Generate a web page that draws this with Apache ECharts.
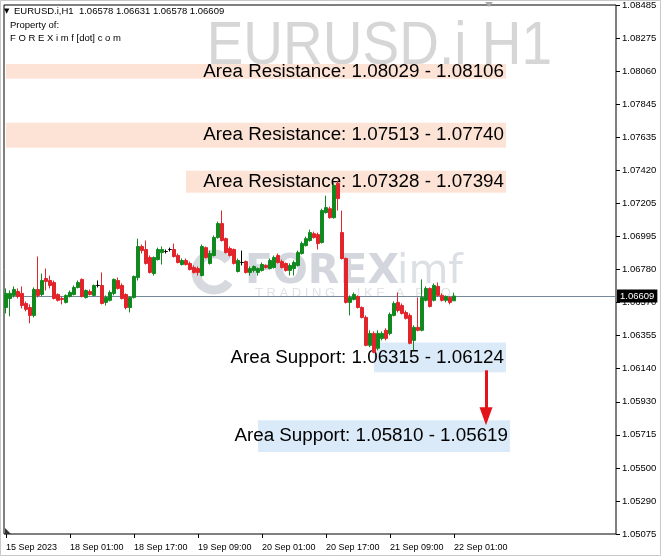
<!DOCTYPE html>
<html><head><meta charset="utf-8">
<script src="https://cdn.jsdelivr.net/npm/echarts@6/dist/echarts.min.js"></script>
<style>html,body{margin:0;padding:0;background:#fff}#c{width:664px;height:560px}</style>
</head><body><div id="c"></div>
<script>
// ---- data ----
const openP = [
1.06535,1.06593,1.06613,1.06638,1.06626,1.06561,1.06535,1.06484,1.06651,1.06619,
1.06722,1.06709,1.06696,1.06619,1.06593,1.06568,1.06606,1.06619,1.06664,1.06716,
1.06600,1.06638,1.06613,1.06677,1.06677,1.06568,1.06581,1.06626,1.06709,1.06677,
1.06619,1.06535,1.06600,1.06728,1.06928,1.06909,1.06857,1.06754,1.06844,1.06889,
1.06896,1.06909,1.06909,1.06870,1.06812,1.06838,1.06819,1.06793,1.06786,1.06741,
1.06921,1.06819,1.06870,1.06986,1.07076,1.06979,1.06915,1.06909,1.06767,1.06825,
1.06831,1.06761,1.06774,1.06761,1.06774,1.06806,1.06786,1.06793,1.06870,1.06831,
1.06819,1.06774,1.06786,1.06806,1.06883,1.06934,1.06967,1.07011,1.07005,1.06954,
1.07147,1.07172,1.07114,1.07334,1.07018,1.06851,1.06568,1.06587,1.06606,1.06535,
1.06471,1.06291,1.06368,1.06272,1.06336,1.06388,1.06368,1.06484,1.06568,1.06548,
1.06503,1.06484,1.06323,1.06407,1.06388,1.06581,1.06658,1.06581,1.06671,1.06613,
1.06581,1.06600,1.06578];
const closeP = [
1.06626,1.06626,1.06651,1.06606,1.06548,1.06523,1.06484,1.06651,1.06613,1.06709,
1.06703,1.06677,1.06593,1.06581,1.06587,1.06613,1.06632,1.06664,1.06696,1.06606,
1.06645,1.06619,1.06677,1.06677,1.06561,1.06600,1.06632,1.06716,1.06658,1.06593,
1.06535,1.06600,1.06735,1.06928,1.06902,1.06819,1.06761,1.06857,1.06909,1.06909,
1.06896,1.06909,1.06864,1.06825,1.06838,1.06812,1.06780,1.06761,1.06761,1.06928,
1.06857,1.06883,1.06986,1.07076,1.06967,1.06889,1.06870,1.06819,1.06838,1.06825,
1.06761,1.06786,1.06799,1.06786,1.06812,1.06793,1.06838,1.06857,1.06825,1.06793,
1.06774,1.06806,1.06825,1.06889,1.06947,1.06979,1.07018,1.06986,1.06947,1.07160,
1.07179,1.07114,1.07321,1.07237,1.06851,1.06568,1.06600,1.06619,1.06535,1.06471,
1.06291,1.06368,1.06246,1.06368,1.06368,1.06336,1.06490,1.06561,1.06516,1.06497,
1.06465,1.06304,1.06407,1.06388,1.06600,1.06658,1.06542,1.06677,1.06613,1.06581,
1.06606,1.06568,1.06609];
const lowP = [
1.06497,1.06478,1.06600,1.06593,1.06529,1.06510,1.06433,1.06471,1.06600,1.06606,
1.06645,1.06658,1.06587,1.06574,1.06555,1.06561,1.06600,1.06613,1.06658,1.06600,
1.06593,1.06613,1.06606,1.06664,1.06555,1.06548,1.06574,1.06613,1.06651,1.06587,
1.06523,1.06503,1.06593,1.06709,1.06883,1.06812,1.06754,1.06741,1.06838,1.06812,
1.06883,1.06896,1.06857,1.06819,1.06806,1.06806,1.06774,1.06754,1.06741,1.06735,
1.06851,1.06812,1.06864,1.06979,1.06960,1.06883,1.06864,1.06812,1.06761,1.06806,
1.06754,1.06741,1.06761,1.06741,1.06767,1.06786,1.06780,1.06786,1.06819,1.06786,
1.06767,1.06741,1.06741,1.06799,1.06876,1.06928,1.06960,1.06979,1.06909,1.06947,
1.07140,1.07108,1.07108,1.07160,1.06844,1.06561,1.06484,1.06581,1.06529,1.06465,
1.06285,1.06279,1.06240,1.06259,1.06323,1.06323,1.06356,1.06478,1.06503,1.06490,
1.06458,1.06298,1.06259,1.06381,1.06381,1.06574,1.06535,1.06574,1.06606,1.06574,
1.06568,1.06555,1.06578];
const highP = [
1.06658,1.06645,1.06671,1.06658,1.06671,1.06574,1.06555,1.06664,1.06864,1.06754,
1.06786,1.06741,1.06709,1.06626,1.06606,1.06619,1.06645,1.06677,1.06709,1.06722,
1.06651,1.06651,1.06683,1.06709,1.06761,1.06613,1.06645,1.06722,1.06728,1.06690,
1.06626,1.06606,1.06741,1.06979,1.06941,1.06967,1.06870,1.06864,1.06921,1.06928,
1.06909,1.06921,1.06947,1.06883,1.06851,1.06851,1.06831,1.06806,1.06799,1.06941,
1.06928,1.06902,1.06999,1.07089,1.07160,1.06986,1.06928,1.06915,1.06851,1.06902,
1.06838,1.06799,1.06806,1.06793,1.06825,1.06812,1.06851,1.06870,1.06883,1.06844,
1.06825,1.06819,1.06838,1.06902,1.06960,1.06992,1.07037,1.07024,1.07018,1.07172,
1.07256,1.07185,1.07334,1.07353,1.07160,1.06857,1.06613,1.06632,1.06613,1.06542,
1.06484,1.06388,1.06381,1.06388,1.06381,1.06401,1.06503,1.06574,1.06632,1.06561,
1.06516,1.06497,1.06420,1.06600,1.06716,1.06671,1.06664,1.06690,1.06696,1.06626,
1.06613,1.06606,1.06631];

const priceTicks = ['1.05075','1.05290','1.05500','1.05715','1.05930','1.06140','1.06355','1.06570',
  '1.06780','1.06995','1.07205','1.07420','1.07635','1.07845','1.08060','1.08275','1.08485'];
const priceMin = 1.05075, priceMax = 1.08485;

const timeTickIndex = [0,16,32,48,64,80,96,112];
const timeTickText = ['15 Sep 2023','18 Sep 01:00','18 Sep 17:00','19 Sep 09:00','20 Sep 01:00','20 Sep 17:00','21 Sep 09:00','22 Sep 01:00'];
const totalSlots = 153; // bars + right-side chart shift

const zoneText = ['Area Resistance: 1.08029 - 1.08106','Area Resistance: 1.07513 - 1.07740','Area Resistance: 1.07328 - 1.07394','Area Support: 1.06315 - 1.06124','Area Support: 1.05810 - 1.05619'];
const zoneHigh = [1.08105, 1.07726, 1.07417, 1.06310, 1.05808];
const zoneLow  = [1.08009, 1.07565, 1.07275, 1.06117, 1.05603];
const zoneFromBar = [0, 0, 45, 92, 63];
const zoneToBar   = [125, 125, 125, 125, 126];
const zoneKind = ['res','res','res','sup','sup'];

const lastPrice = 1.06609;
const arrowBar = 120, arrowFrom = 1.06130, arrowTo = 1.05834;

const header = 'EURUSD.i,H1  1.06578 1.06631 1.06578 1.06609';

// ---- chart ----
const FONT = '"Liberation Sans", Arial, sans-serif';
const cats = Array.from({length: totalSlots}, (_, i) => String(i));
const candles = openP.map((o, i) => [o, closeP[i], lowP[i], highP[i]]);
const isTick = (idx) => timeTickIndex.indexOf(idx) >= 0;

const zoneColors = {res: '#fce3d6', sup: '#dbeaf8'};
const areas = zoneText.map((t, i) => [
  {xAxis: zoneFromBar[i], yAxis: zoneHigh[i], itemStyle: {color: zoneColors[zoneKind[i]]},
   label: {show: true, formatter: t}},
  {xAxis: zoneToBar[i], yAxis: zoneLow[i]}
]);

const chart = echarts.init(document.getElementById('c'), null, {renderer: 'canvas'});
chart.setOption({
  animation: false,
  backgroundColor: '#fff',
  textStyle: {fontFamily: FONT},
  grid: {left: 4, right: 48, top: 4, bottom: 26, show: true, borderColor: '#000', borderWidth: 1, backgroundColor: 'transparent'},
  xAxis: {
    type: 'category', data: cats, boundaryGap: true,
    axisLine: {show: false},
    axisTick: {show: true, interval: (i) => isTick(i), alignWithLabel: true, length: 4, lineStyle: {color: '#000'}},
    axisLabel: {interval: (i) => isTick(i), formatter: (v, i) => timeTickText[timeTickIndex.indexOf(Number(v))] || '',
      align: 'left', margin: 9, fontSize: 9, color: '#000', fontFamily: FONT},
    splitLine: {show: false}
  },
  yAxis: [
    {type: 'value', min: priceMin, max: priceMax, position: 'left', show: false, splitLine: {show: false}},
    {type: 'value', min: 0, max: priceTicks.length - 1, interval: 1, position: 'right',
      axisLine: {show: false},
      axisTick: {show: true, length: 4, lineStyle: {color: '#000'}},
      axisLabel: {formatter: (v) => priceTicks[Math.round(v)], fontSize: 9.5, color: '#000', margin: 6, fontFamily: FONT},
      splitLine: {show: false}}
  ],
  graphic: [
    {type: 'rect', z: -1, silent: true, shape: {x: 0.5, y: 0.5, width: 660, height: 555}, style: {fill: null, stroke: '#c8c8c8', lineWidth: 1}},
    {type: 'text', z: 0, scaleY: 1.12, originY: 16, style: {x: 552, y: 16, text: 'EURUSD.i H1', textAlign: 'right', font: '55px ' + FONT, fill: '#d6d6d6'}},
    {type: 'polygon', z: 10, shape: {points: [[485, 2], [493, 2], [489, 7]]}, style: {fill: '#a9a9a9'}},
    {type: 'polygon', z: 10, shape: {points: [[5, 528], [5, 534], [11, 534]]}, style: {fill: '#333'}},
    {type: 'text', z: 10, style: {x: 4, y: 8, text: '▼', font: '7px "DejaVu Sans"', fill: '#000'}},
    {type: 'text', z: 10, style: {x: 14, y: 6, text: header, font: '9.5px ' + FONT, fill: '#000'}},
    {type: 'text', z: 10, style: {x: 10, y: 20, text: 'Property of:', font: '9.5px ' + FONT, fill: '#000'}},
    {type: 'text', z: 10, style: {x: 10, y: 33, text: 'F O R E X i m f [dot] c o m', font: '9.5px ' + FONT, fill: '#000'}},
    {type: 'arc', z: 0, shape: {cx: 214, cy: 272, r: 18, startAngle: 0.6, endAngle: 5.6}, style: {stroke: '#d6d9de', lineWidth: 9, fill: null}},
    {type: 'text', z: 0, style: {x: 245, y: 252, text: 'FOREX', font: 'bold 41px "DejaVu Sans"', fill: '#d3d6dc'}},
    {type: 'text', z: 0, style: {x: 397, y: 252, text: 'imf', font: '41px "DejaVu Sans"', fill: '#dcdfe4'}},
    {type: 'text', z: 0, style: {x: 255, y: 287, text: 'T R A D I N G   L I K E   A   P R O', font: '13px ' + FONT, fill: '#e0e2e6'}}
  ],
  series: [
    {
      type: 'candlestick', yAxisIndex: 0, data: candles, barWidth: 3, z: 3,
      itemStyle: {color: '#12891f', color0: '#e2242b', borderColor: '#12891f', borderColor0: '#e2242b', borderColorDoji: '#000', borderWidth: 1},
      markArea: {
        silent: true, z: 1,
        label: {position: 'insideRight', distance: 2, color: '#000', fontSize: 18.8, fontFamily: FONT},
        data: areas
      },
      markLine: {
        silent: true, symbol: 'none', z: 2, precision: 5,
        lineStyle: {color: '#778899', width: 1, type: 'solid'},
        label: {show: true, position: 'end', distance: 1, formatter: lastPrice.toFixed(5),
          backgroundColor: '#000', color: '#fff', padding: [2, 3, 1, 3], fontSize: 9.5, fontFamily: FONT},
        data: [{yAxis: lastPrice}]
      }
    },
    {
      type: 'line', yAxisIndex: 0, data: [], z: 4,
      markLine: {
        silent: true, symbol: ['none', 'triangle'], symbolSize: [13, 18], precision: 5,
        lineStyle: {color: '#e3121b', width: 3, type: 'solid'},
        itemStyle: {color: '#e3121b'},
        label: {show: false},
        data: [[{coord: [arrowBar, arrowFrom]}, {coord: [arrowBar, arrowTo]}]]
      }
    }
  ]
});
</script></body></html>
